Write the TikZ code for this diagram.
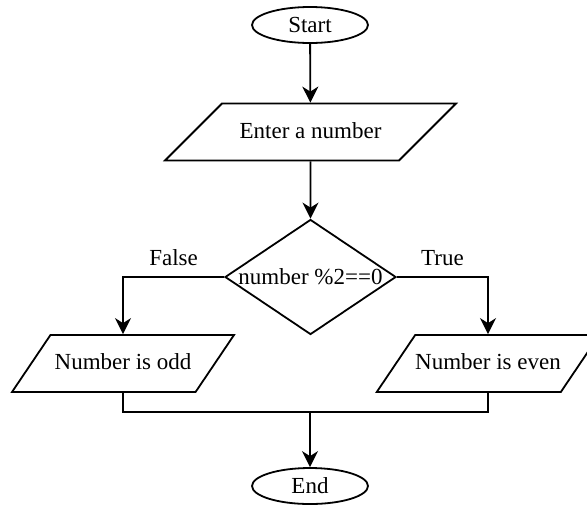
\documentclass[tikz,border=0pt]{standalone}
\usepackage{fontspec}
\setmainfont{Liberation Serif}
\usetikzlibrary{shapes.geometric,arrows.meta}
\tikzset{
  term/.style={draw, ellipse, minimum width=58pt, minimum height=18pt, inner sep=0pt},
  iobox/.style={draw, trapezium, trapezium stretches body, text height=8pt, text depth=2pt,
    inner xsep=0pt, inner ysep=9.25pt},
  decide/.style={draw, diamond, aspect=1.49, minimum width=85.5pt, minimum height=57.5pt, inner sep=0pt},
  flow/.style={-{Stealth[length=8pt,width=8pt,inset=2.5pt]}}
}
\begin{document}
\begin{tikzpicture}[x=0.5pt, y=-0.5pt, line width=0.9pt, font=\fontsize{11.5}{14}\selectfont]
\clip (0,0) rectangle (587,505);
\node[term] (start) at (310,25) {Start};
\node[iobox, trapezium left angle=45, trapezium right angle=135, minimum width=145.5pt] (enter) at (310.5,132) {Enter a number};
\node[decide] (cond) at (310.5,277) {number \%2==0};
\node[iobox, trapezium left angle=56, trapezium right angle=124, minimum width=111pt] (odd) at (123,363.5) {Number is odd};
\node[iobox, trapezium left angle=56, trapezium right angle=124, minimum width=111pt] (even) at (488,363.5) {Number is even};
\node[term] (end) at (310,486) {End};
\coordinate (join) at (310,412);
\draw[flow] (start) -- (enter);
\draw[flow] (enter) -- (cond);
\draw[flow] (cond.west) -| node[pos=0.25, above=2pt] {False} (odd.north);
\draw[flow] (cond.east) -| node[pos=0.25, above=2pt] {True} (even.north);
\draw (odd.south) |- (join) -| (even.south);
\draw[flow] (join) -- (end);
\end{tikzpicture}
\end{document}
